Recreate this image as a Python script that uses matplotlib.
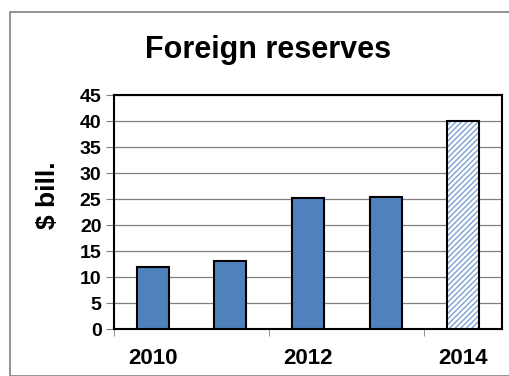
import numpy as np
import matplotlib.pyplot as plt
from matplotlib.patches import Rectangle

years = ['2010', '2011', '2012', '2013', '2014']
reserves = [12.0, 13.1, 25.1, 25.4, 40.0]
forecast = [False, False, False, False, True]

plt.rcParams['font.family'] = ['Liberation Sans', 'DejaVu Sans']
plt.rcParams['font.weight'] = 'bold'

fig = plt.figure(figsize=(5.09, 3.76), dpi=100)
fig.patches.append(Rectangle((10 / 509, 0), 1.2, 1 - 12 / 376, transform=fig.transFigure,
                             fill=False, edgecolor='#808080', linewidth=1.2))

ax = fig.add_axes([114 / 509, 1 - 329 / 376, 388 / 509, 234 / 376])
x = np.arange(len(years))
blue = '#4f81bd'
for i, v in enumerate(reserves):
    if forecast[i]:
        ax.bar(x[i], v, width=0.41, color='white', edgecolor='#7ea1d3', hatch='//////', linewidth=0, zorder=3)
        ax.bar(x[i], v, width=0.41, fill=False, edgecolor='black', linewidth=1.5, zorder=4)
    else:
        ax.bar(x[i], v, width=0.41, color=blue, edgecolor='black', linewidth=1.5, zorder=3)

ax.set_xlim(-0.5, 4.5)
ax.set_ylim(0, 45)
ax.set_yticks(range(0, 50, 5))
ax.yaxis.grid(True, color='#808080', linewidth=0.9, zorder=0)
ax.set_xticks([0, 2, 4])
ax.set_xticklabels(['2010', '2012', '2014'], fontsize=16, fontweight='bold')
ax.set_xticks([-0.5, 1.5, 3.5], minor=True)
ax.tick_params(axis='x', which='major', length=0, pad=14)
ax.tick_params(axis='x', which='minor', length=5, color='#808080')
ax.tick_params(axis='y', length=6, color='#808080', labelsize=14, pad=3)
for lbl in ax.get_yticklabels():
    lbl.set_fontweight('bold')
for s in ax.spines.values():
    s.set_linewidth(1.5)
ax.set_ylabel('$ bill.', fontsize=19, fontweight='bold')
ax.yaxis.set_label_coords(-0.139, 0.573)
fig.text(268 / 509, 1 - 50 / 376, 'Foreign reserves', ha='center', va='center', fontsize=22, fontweight='bold')

fig.savefig('out.png', dpi=100)
